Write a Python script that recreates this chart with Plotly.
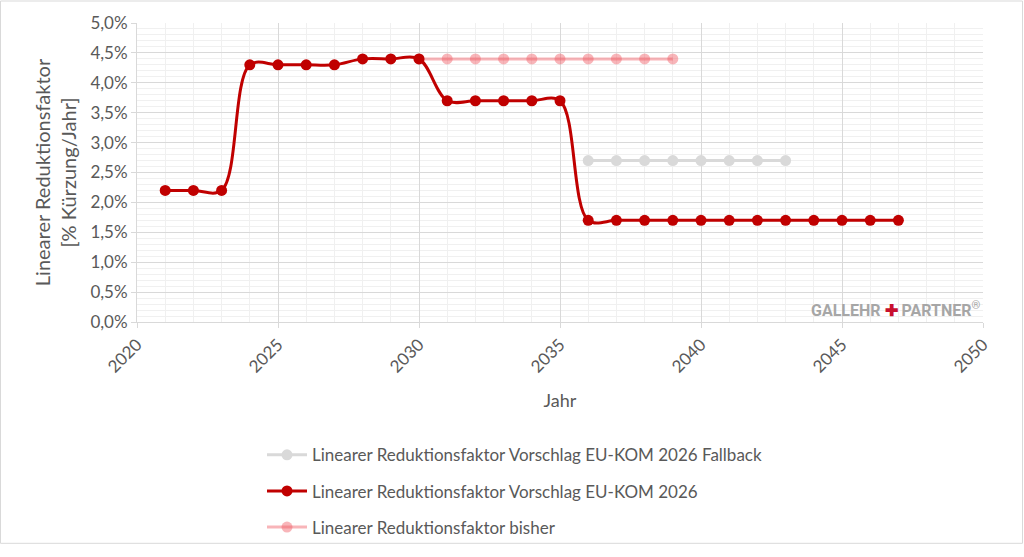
import plotly.graph_objects as go

years_main = list(range(2021, 2048))
vals_main = [2.2, 2.2, 2.2, 4.3, 4.3, 4.3, 4.3, 4.4, 4.4, 4.4,
             3.7, 3.7, 3.7, 3.7, 3.7,
             1.7, 1.7, 1.7, 1.7, 1.7, 1.7, 1.7, 1.7, 1.7, 1.7, 1.7, 1.7]
years_bisher = list(range(2030, 2040))
vals_bisher = [4.4] * 10
years_fallback = list(range(2036, 2044))
vals_fallback = [2.7] * 8

name_fallback = "Linearer Reduktionsfaktor Vorschlag EU-KOM 2026 Fallback"
name_main = "Linearer Reduktionsfaktor Vorschlag EU-KOM 2026"
name_bisher = "Linearer Reduktionsfaktor bisher"

RED = "#c00000"
GREY = "#d9d9d9"
PINK = "rgba(240,90,100,0.45)"
TXT = "#595959"
FONT = "Lato"

fig = go.Figure()
fig.add_trace(go.Scatter(x=years_bisher, y=vals_bisher, name=name_bisher, mode="lines+markers",
                         line=dict(color=PINK, width=3, shape="spline"),
                         marker=dict(size=11, color=PINK), legendrank=3, legendgroup="c"))
fig.add_trace(go.Scatter(x=years_fallback, y=vals_fallback, name=name_fallback, mode="lines+markers",
                         line=dict(color=GREY, width=3, shape="spline"),
                         marker=dict(size=11, color=GREY), legendrank=1, legendgroup="a"))
fig.add_trace(go.Scatter(x=years_main, y=vals_main, name=name_main, mode="lines+markers",
                         line=dict(color=RED, width=3, shape="spline", smoothing=1),
                         marker=dict(size=11, color=RED), legendrank=2, legendgroup="b"))

W, H = 1024, 557
L, R, T, B = 137, 41, 23, 228
pw, ph = W - L - R, H - T - B

fig.update_layout(
    width=W, height=H,
    margin=dict(l=L, r=R, t=T, b=B),
    paper_bgcolor="white", plot_bgcolor="white",
    separators=",.",
    font=dict(family=FONT, color=TXT, size=17),
    showlegend=True,
    legend=dict(x=(262 - L) / pw, y=(T + ph - 447) / ph, xanchor="left", yanchor="top",
                traceorder="grouped", tracegroupgap=11, itemwidth=40,
                font=dict(size=17, color=TXT, family=FONT), bgcolor="rgba(0,0,0,0)"),
    xaxis=dict(range=[2020, 2050], dtick=5, tick0=2020, tickangle=-45,
               showgrid=True, gridcolor="#d9d9d9", gridwidth=1,
               minor=dict(dtick=1, showgrid=True, gridcolor="#f0f0f0", gridwidth=1),
               showline=True, linecolor="#d9d9d9", linewidth=1,
               ticks="outside", ticklen=5, tickcolor="#d9d9d9",
               tickfont=dict(size=17, color=TXT, family=FONT),
               title=dict(text="Jahr", font=dict(size=18, color=TXT, family=FONT), standoff=18),
               zeroline=False, fixedrange=True),
    yaxis=dict(range=[0, 5], dtick=0.5, tick0=0, tickformat=".1f", ticksuffix="%",
               showgrid=True, gridcolor="#d9d9d9", gridwidth=1,
               minor=dict(dtick=0.1, showgrid=True, gridcolor="#f0f0f0", gridwidth=1),
               showline=True, linecolor="#d9d9d9", linewidth=1,
               ticks="outside", ticklen=5, tickcolor="#d9d9d9",
               tickfont=dict(size=17, color=TXT, family=FONT),
               title=dict(text="Linearer Reduktionsfaktor<br>[% Kürzung/Jahr]",
                          font=dict(size=20, color=TXT, family=FONT), standoff=8),
               zeroline=False, fixedrange=True),
)

# outer border of chart area
fig.add_shape(type="rect", xref="paper", yref="paper",
              x0=-(L - 0.5) / pw, x1=1 + (R - 1.5) / pw,
              y0=-(B - 1.5) / ph, y1=1 + (T - 0.5) / ph,
              line=dict(color="#d9d9d9", width=1), fillcolor="rgba(0,0,0,0)", layer="below")

fig.add_annotation(xref="paper", yref="paper", x=1, y=0.0, xanchor="right", yanchor="bottom",
                   text="<b>GALLEHR <span style='color:#c8102e'>✚</span> PARTNER</b><sup>®</sup>",
                   showarrow=False, font=dict(family="Roboto", size=16, color="#a6a6a6"))

fig.write_html("out.html")
